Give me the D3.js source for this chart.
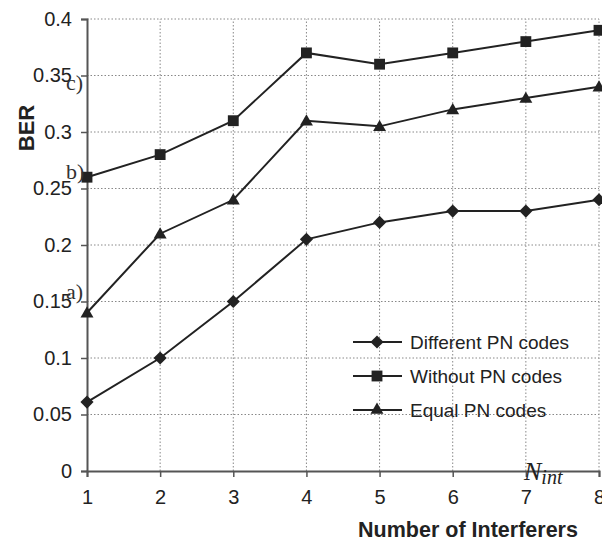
<!DOCTYPE html>
<html>
<head>
<meta charset="utf-8">
<script src="https://cdn.jsdelivr.net/npm/d3@7.9.0/dist/d3.min.js"></script>
<style>
  body { margin: 0; background: #fff; }
  svg { display: block; }
  .tick text { font-family: Arial, "Liberation Sans", sans-serif; font-size: 20px; fill: #222; }
</style>
</head>
<body>
<svg id="chart" width="602" height="542"></svg>
<script>
const interferers = [1, 2, 3, 4, 5, 6, 7, 8];
const differentPN = [0.061, 0.10, 0.15, 0.205, 0.22, 0.23, 0.23, 0.24];
const withoutPN = [0.26, 0.28, 0.31, 0.37, 0.36, 0.37, 0.38, 0.39];
const equalPN = [0.14, 0.21, 0.24, 0.31, 0.305, 0.32, 0.33, 0.34];
const seriesNames = ['Different PN codes', 'Without PN codes', 'Equal PN codes'];
const markerTypes = ['diamond', 'square', 'triangle'];
const yTicks = [0, 0.05, 0.1, 0.15, 0.2, 0.25, 0.3, 0.35, 0.4];
const curveLabels = [['a)', 0.158], ['b)', 0.265], ['c)', 0.343]];

const svg = d3.select('#chart');
const x = d3.scaleLinear().domain([1, 8]).range([87, 599]);
const y = d3.scaleLinear().domain([0, 0.4]).range([471, 19]);
const ink = '#222';

// grid
svg.append('g').selectAll('line').data(yTicks.slice(1)).join('line')
  .attr('x1', x(1)).attr('x2', x(8))
  .attr('y1', d => y(d)).attr('y2', d => y(d))
  .attr('stroke', '#888').attr('stroke-width', 1).attr('stroke-dasharray', '1.5,2');
svg.append('g').selectAll('line').data(interferers.slice(1)).join('line')
  .attr('x1', d => x(d)).attr('x2', d => x(d))
  .attr('y1', y(0)).attr('y2', y(0.4))
  .attr('stroke', '#888').attr('stroke-width', 1).attr('stroke-dasharray', '1.5,2');

// axes
const yAxis = svg.append('g').attr('transform', `translate(${x(1)},0)`)
  .call(d3.axisLeft(y).tickValues(yTicks).tickFormat(d3.format('')).tickSize(6).tickPadding(9));
const xAxis = svg.append('g').attr('transform', `translate(0,${y(0)})`)
  .call(d3.axisBottom(x).tickValues(interferers).tickFormat(d3.format('d')).tickSize(6).tickPadding(13));
[yAxis, xAxis].forEach(a => {
  a.select('.domain').attr('stroke', '#555').attr('stroke-width', 2);
  a.selectAll('.tick line').attr('stroke', '#555').attr('stroke-width', 1.5);
});

// series
const allSeries = [differentPN, withoutPN, equalPN];
const line = d3.line().x((d, i) => x(interferers[i])).y(d => y(d));
const symbolOf = {
  diamond: d3.symbol().type(d3.symbolDiamond2).size(110),
  square: d3.symbol().type(d3.symbolSquare2).size(150),
  triangle: d3.symbol().type(d3.symbolTriangle2).size(120)
};
allSeries.forEach((vals, s) => {
  svg.append('path').datum(vals).attr('d', line)
    .attr('fill', 'none').attr('stroke', ink).attr('stroke-width', 2);
  svg.append('g').selectAll('path').data(vals).join('path')
    .attr('transform', (d, i) => `translate(${x(interferers[i])},${y(d) + (markerTypes[s] === 'triangle' ? 1 : 0)})`)
    .attr('d', symbolOf[markerTypes[s]]())
    .attr('fill', ink).attr('stroke', 'none');
});

// legend
const legend = svg.append('g');
seriesNames.forEach((name, i) => {
  const ly = 342 + i * 34;
  legend.append('line').attr('x1', 353).attr('x2', 402).attr('y1', ly).attr('y2', ly)
    .attr('stroke', ink).attr('stroke-width', 2);
  legend.append('path').attr('transform', `translate(377,${ly})`)
    .attr('d', symbolOf[markerTypes[i]]()).attr('fill', ink);
  legend.append('text').attr('x', 410).attr('y', ly + 7).text(name)
    .attr('font-family', 'Arial, "Liberation Sans", sans-serif').attr('font-size', 19).attr('fill', ink);
});

// curve labels a) b) c)
curveLabels.forEach(([t, v]) => {
  svg.append('text').attr('x', 66).attr('y', y(v) + 7).text(t)
    .attr('font-family', '"Liberation Serif", "DejaVu Serif", serif').attr('font-size', 22).attr('fill', '#333');
});

// N_int
const nint = svg.append('text').attr('x', 524).attr('y', 480)
  .attr('font-family', '"Liberation Serif", serif').attr('font-style', 'italic').attr('fill', '#222');
nint.append('tspan').attr('font-size', 26).text('N');
nint.append('tspan').attr('font-size', 20).attr('dy', 4).text('int');

// axis titles
svg.append('text').attr('transform', 'translate(34,128) rotate(-90)')
  .attr('text-anchor', 'middle').text('BER')
  .attr('font-family', 'Arial, "Liberation Sans", sans-serif').attr('font-weight', 'bold').attr('font-size', 22).attr('fill', ink);
svg.append('text').attr('x', 468).attr('y', 537).attr('text-anchor', 'middle').text('Number of Interferers')
  .attr('font-family', 'Arial, "Liberation Sans", sans-serif').attr('font-weight', 'bold').attr('font-size', 21.5).attr('fill', ink);
</script>
</body>
</html>
